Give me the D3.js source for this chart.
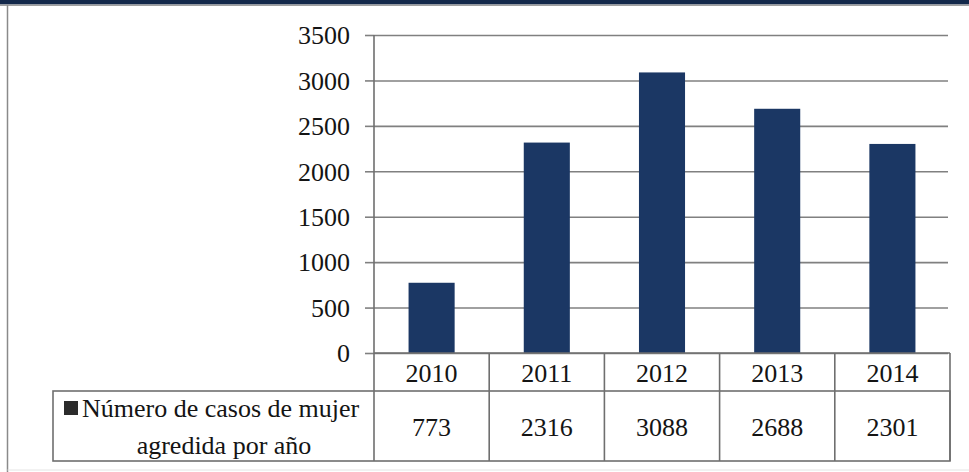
<!DOCTYPE html>
<html>
<head>
<meta charset="utf-8">
<script src="https://cdn.jsdelivr.net/npm/d3@7/dist/d3.min.js"></script>
<style>
  html, body { margin: 0; padding: 0; background: #ffffff; }
  svg { display: block; }
  svg text { font-family: "Liberation Serif" !important; }
</style>
</head>
<body>
<svg id="chart" width="969" height="472" font-family="Liberation Serif"></svg>
<script>
// Annual counts of reported cases
const years = ["2010", "2011", "2012", "2013", "2014"];
const cases = [773, 2316, 3088, 2688, 2301];
const yTicks = [0, 500, 1000, 1500, 2000, 2500, 3000, 3500];
const seriesLabel = ["Número de casos de mujer", "agredida por año"];

const svg = d3.select("#chart");
const W = 969, H = 472;
const plot = { left: 374, right: 950, top: 35, bottom: 353 };
const table = { left: 53, row1: 391, bottom: 461 };
const barColor = "#1b3764";
const lineColor = "#808080";
const borderColor = "#6f6f6f";

function styleText(sel) {
  return sel.attr("font-family", "Liberation Serif").attr("font-size", 26)
    .style("font-family", '"Liberation Serif"').style("font-size", "26px").style("fill", "#141414");
}

// frame: dark header strip and thin grey outline
svg.append("rect").attr("x", 0).attr("y", 0).attr("width", W).attr("height", 4.5).attr("fill", "#13284a");
svg.append("rect").attr("x", 0).attr("y", 4.5).attr("width", W).attr("height", 1.5).attr("fill", "#a0a0a0");
svg.append("line").attr("x1", 7.5).attr("x2", 7.5).attr("y1", 5).attr("y2", H)
  .attr("stroke", "#8a8a8a").attr("stroke-width", 1.5);
svg.append("line").attr("x1", 7.5).attr("x2", W).attr("y1", 470).attr("y2", 470)
  .attr("stroke", "#e4e4e4").attr("stroke-width", 1);

const x = d3.scaleBand().domain(years).range([plot.left, plot.right]).paddingInner(0.6).paddingOuter(0.3);
const xCell = d3.scaleBand().domain(years).range([plot.left, plot.right]);
const y = d3.scaleLinear().domain([0, 3500]).range([plot.bottom, plot.top]);

// gridlines, outer tick marks and value labels
const yAxis = d3.axisLeft(y).tickValues(yTicks).tickSize(-(plot.right - 2 - plot.left))
  .tickFormat(d3.format("d"));
const gy = svg.append("g").attr("transform", `translate(${plot.left},0)`).call(yAxis);
gy.attr("font-family", "Liberation Serif").attr("font-size", 26);
gy.select(".domain").remove();
gy.selectAll(".tick line").attr("stroke", lineColor).attr("stroke-width", 1.6);
gy.selectAll(".tick").append("line").attr("x1", -9).attr("x2", 0)
  .attr("stroke", lineColor).attr("stroke-width", 1.6);
styleText(gy.selectAll(".tick text")).attr("x", -24).attr("dy", "0.34em");

// bars
svg.append("g").selectAll("rect").data(years).join("rect")
  .attr("x", d => x(d))
  .attr("width", x.bandwidth())
  .attr("y", (d, i) => y(cases[i]))
  .attr("height", (d, i) => y(0) - y(cases[i]))
  .attr("fill", barColor);

// vertical value axis line
svg.append("line").attr("x1", plot.left).attr("x2", plot.left).attr("y1", plot.top).attr("y2", table.bottom)
  .attr("stroke", borderColor).attr("stroke-width", 1.6);

// data table under the plot
const tg = svg.append("g").attr("font-family", "Liberation Serif");
tg.append("line").attr("x1", plot.left).attr("x2", plot.right).attr("y1", y(0)).attr("y2", y(0))
  .attr("stroke", borderColor).attr("stroke-width", 1.6);
tg.append("rect").attr("x", table.left).attr("y", table.row1)
  .attr("width", plot.right - table.left).attr("height", table.bottom - table.row1)
  .attr("fill", "none").attr("stroke", borderColor).attr("stroke-width", 1.6);
tg.selectAll("line.sep").data(years).join("line").attr("class", "sep")
  .attr("x1", d => xCell(d) + xCell.bandwidth()).attr("x2", d => xCell(d) + xCell.bandwidth())
  .attr("y1", y(0)).attr("y2", table.bottom)
  .attr("stroke", borderColor).attr("stroke-width", 1.6);

styleText(tg.selectAll("text.year").data(years).join("text").attr("class", "year"))
  .attr("x", d => xCell(d) + xCell.bandwidth() / 2)
  .attr("y", 373).attr("dy", "0.34em")
  .attr("text-anchor", "middle").text(d => d);

styleText(tg.selectAll("text.val").data(years).join("text").attr("class", "val"))
  .attr("x", d => xCell(d) + xCell.bandwidth() / 2)
  .attr("y", 427).attr("dy", "0.34em")
  .attr("text-anchor", "middle").text((d, i) => cases[i]);

// legend key + series name
tg.append("rect").attr("x", 64).attr("y", 401).attr("width", 14).attr("height", 14).attr("fill", "#2b2b2b");
styleText(tg.selectAll("text.lab").data(seriesLabel).join("text").attr("class", "lab"))
  .attr("x", (d, i) => i === 0 ? 82 : 224)
  .attr("y", (d, i) => i === 0 ? 408 : 445).attr("dy", "0.34em")
  .attr("text-anchor", (d, i) => i === 0 ? "start" : "middle")
  .text(d => d);
</script>
</body>
</html>
